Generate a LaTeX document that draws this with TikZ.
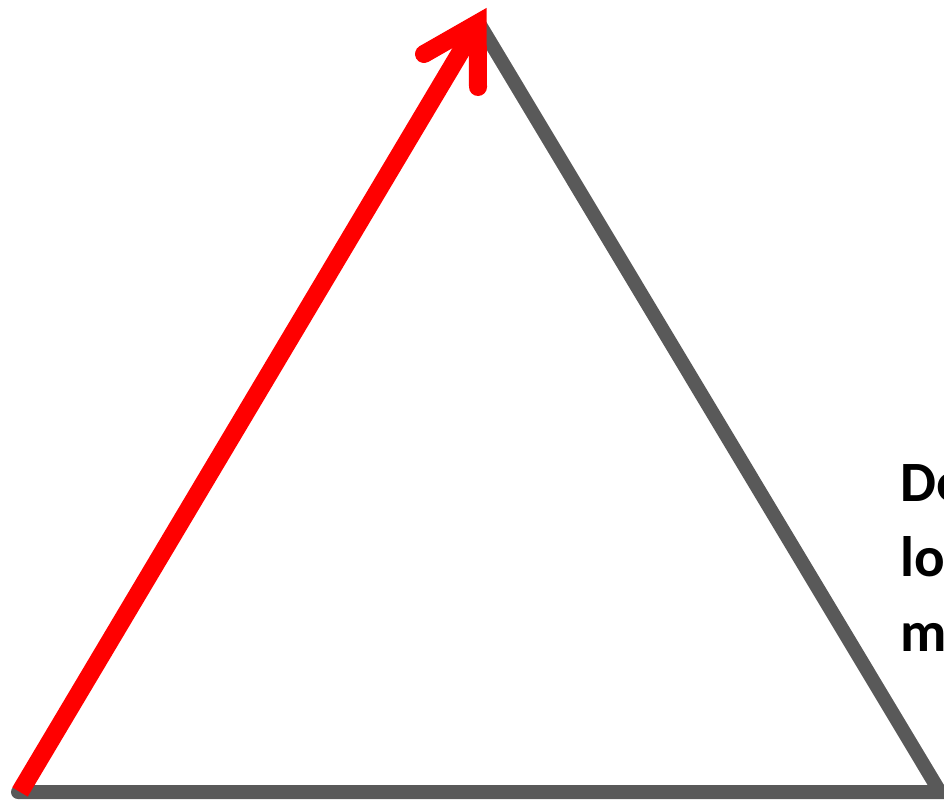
\documentclass[tikz,border=0pt]{standalone}
\usepackage{fontspec}
\setmainfont{Carlito}
\definecolor{edgegray}{HTML}{595959}
\definecolor{arrowred}{HTML}{FF0000}
\tikzset{
  grayedge/.style={draw=edgegray, line width=14pt, line cap=round, line join=miter},
  redshaft/.style={draw=arrowred, line width=18pt, line cap=butt},
  redbarb/.style={draw=arrowred, line width=18pt, line cap=round, line join=miter, miter limit=10},
  lbl/.style={anchor=base west, inner sep=0pt, font=\bfseries\fontsize{57}{66}\selectfont, text=black}
}
\begin{document}
\begin{tikzpicture}[x=1pt,y=-1pt]
\useasboundingbox (0,0) rectangle (944,801);
\clip (0,0) rectangle (944,801);
% triangle corners
\coordinate (apex) at (474.6,16);
\coordinate (br) at (940,792);
\coordinate (bl) at (18,792);
% arrow
\coordinate (start) at (20,792);
\coordinate (tip) at (477.6,23.4);
\coordinate (barbL) at (424,54);
\coordinate (barbD) at (478,87);
% gray sides
\draw[grayedge, line cap=butt] (apex) -- (br) -- (bl);
\fill[edgegray] (bl) circle (7pt);
% red arrow
\draw[redshaft] (start) -- (tip);
\draw[redbarb] (barbL) -- (tip) -- (barbD);
% text
\node[lbl] (t1) at (900,501) {De};
\node[lbl] (t2) at (900,576) {lo};
\node[lbl] (t3) at (900,651) {m};
\end{tikzpicture}
\end{document}
